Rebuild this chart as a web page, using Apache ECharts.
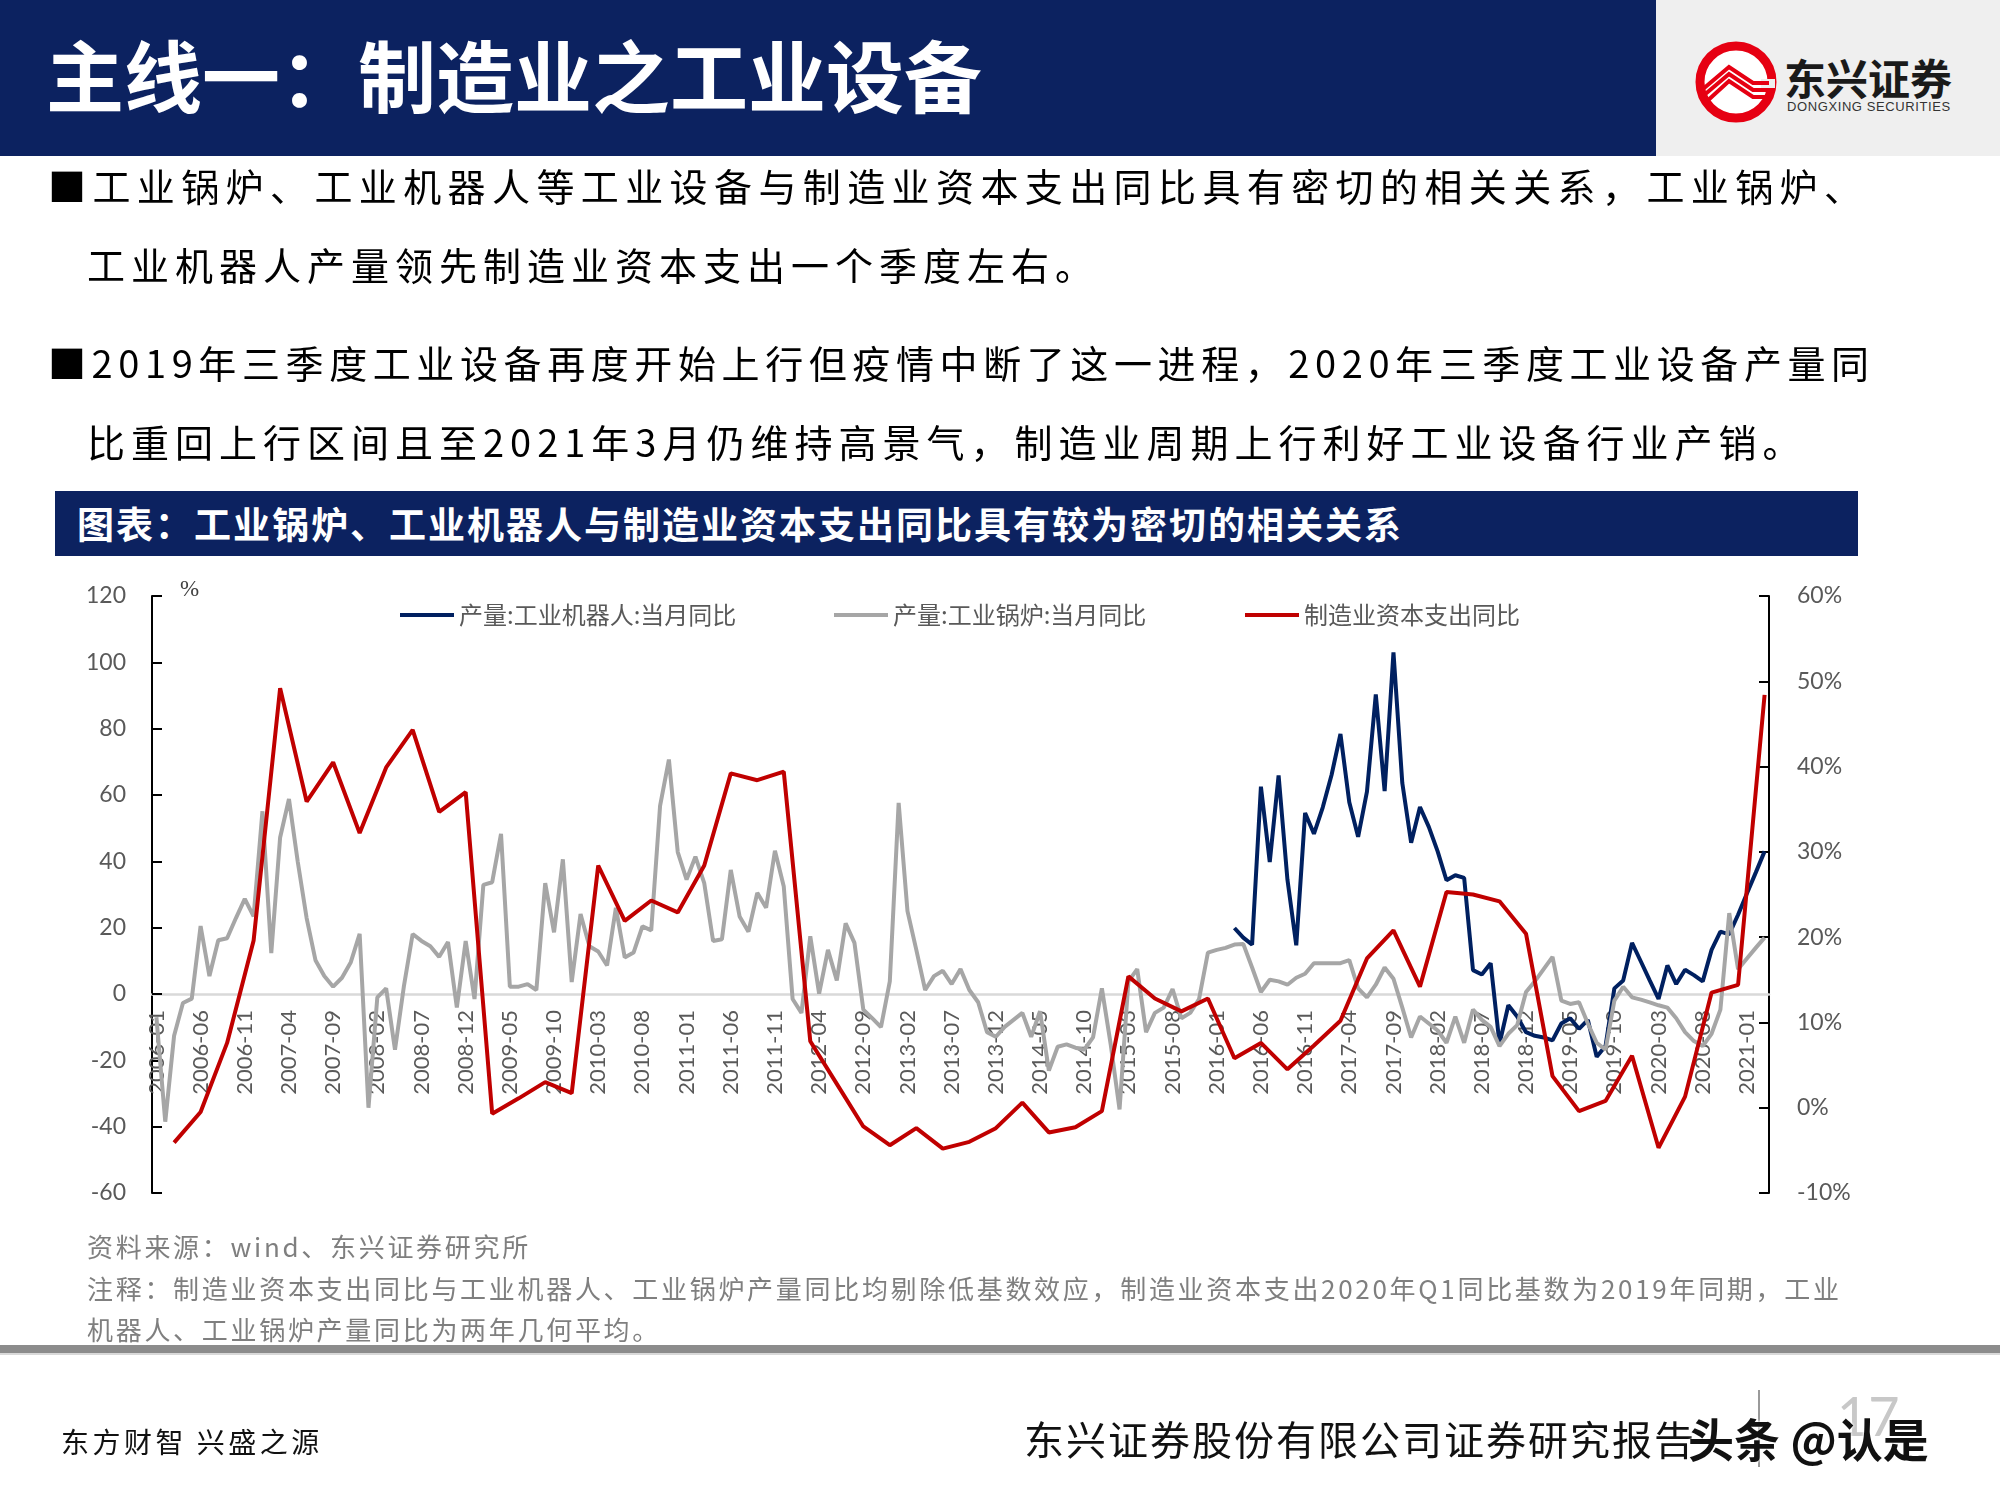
<!DOCTYPE html>
<html>
<head>
<meta charset="utf-8">
<title>主线一：制造业之工业设备</title>
<script src="https://cdn.jsdelivr.net/npm/echarts/dist/echarts.min.js"></script>
<style>
  body { margin: 0; background: #fff; }
  #page { position: relative; width: 2000px; height: 1500px; overflow: hidden; font-family: "Noto Sans CJK SC", sans-serif; }
  #chart { position: absolute; left: 0; top: 0; width: 2000px; height: 1500px; }
  .abs { position: absolute; white-space: nowrap; }
  .bullet { font-size: 38px; line-height: 46px; letter-spacing: 6px; color: #000; }
  .note { font-size: 26px; line-height: 32px; letter-spacing: 2.7px; color: #7f7f7f; }
</style>
</head>
<body>
<div id="page">
  <div id="chart"></div>

  <!-- header -->
  <div class="abs" style="left:0;top:0;width:1656px;height:156px;background:#0c2260;"></div>
  <div class="abs" style="left:1656px;top:0;width:344px;height:156px;background:#efefef;"></div>
  <div class="abs" style="left:46px;top:26px;font-size:78px;line-height:94px;font-weight:bold;color:#fff;">主线一：制造业之工业设备</div>
  <svg class="abs" style="left:1691px;top:37px;" width="90" height="90" viewBox="0 0 90 90">
    <circle cx="45" cy="45" r="36" fill="#fff" stroke="#e60012" stroke-width="9"/>
    <rect x="70" y="42" width="14" height="9" fill="#efefef"/>
    <polyline points="12,52 38,30 62,46 78,46" fill="none" stroke="#e60012" stroke-width="4"/>
    <polyline points="12,59 38,37 62,53 78,53" fill="none" stroke="#e60012" stroke-width="4"/>
    <polyline points="14,66 38,44 62,60 74,60" fill="none" stroke="#e60012" stroke-width="4"/>
  </svg>
  <div class="abs" style="left:1784px;top:52px;font-size:42px;line-height:50px;font-weight:bold;color:#1a1a1a;">东兴证券</div>
  <div class="abs" style="left:1787px;top:99px;font-size:13px;line-height:16px;letter-spacing:0.6px;color:#333;font-family:'Liberation Sans';">DONGXING SECURITIES</div>

  <!-- bullets -->
  <div class="abs bullet" style="left:48px;top:162px;letter-spacing:6.4px;">■工业锅炉、工业机器人等工业设备与制造业资本支出同比具有密切的相关关系，工业锅炉、</div>
  <div class="abs bullet" style="left:87px;top:241px;">工业机器人产量领先制造业资本支出一个季度左右。</div>
  <div class="abs bullet" style="left:48px;top:339px;letter-spacing:5.6px;">■2019年三季度工业设备再度开始上行但疫情中断了这一进程，2020年三季度工业设备产量同</div>
  <div class="abs bullet" style="left:87px;top:418px;">比重回上行区间且至2021年3月仍维持高景气，制造业周期上行利好工业设备行业产销。</div>

  <!-- chart caption band -->
  <div class="abs" style="left:55px;top:491px;width:1803px;height:65px;background:#0c2260;"></div>
  <div class="abs" style="left:77px;top:491px;font-size:37px;line-height:65px;font-weight:bold;color:#fff;letter-spacing:2px;">图表：工业锅炉、工业机器人与制造业资本支出同比具有较为密切的相关关系</div>

  <!-- notes -->
  <div class="abs note" style="left:87px;top:1230px;">资料来源：wind、东兴证券研究所</div>
  <div class="abs note" style="left:87px;top:1272px;">注释：制造业资本支出同比与工业机器人、工业锅炉产量同比均剔除低基数效应，制造业资本支出2020年Q1同比基数为2019年同期，工业</div>
  <div class="abs note" style="left:87px;top:1313px;">机器人、工业锅炉产量同比为两年几何平均。</div>

  <!-- footer -->
  <div class="abs" style="left:0;top:1345px;width:2000px;height:8px;background:#8c8c8c;"></div>
  <div class="abs" style="left:0;top:1353px;width:2000px;height:2px;background:#d9d9d9;"></div>
  <div class="abs" style="left:61px;top:1424px;font-size:28px;line-height:34px;letter-spacing:3.5px;color:#111;">东方财智 兴盛之源</div>
  <div class="abs" style="left:1837px;top:1385px;font-size:54px;line-height:62px;color:#c8c8c8;font-family:'Lato';">17</div>
  <div class="abs" style="left:1758px;top:1390px;width:2px;height:77px;background:#9a9a9a;"></div>
  <div class="abs" style="left:1024px;top:1413px;font-size:40px;line-height:50px;letter-spacing:2px;color:#111;">东兴证券股份有限公司证券研究报告</div>
  <div class="abs" style="left:1688px;top:1408px;font-size:46px;line-height:58px;font-weight:bold;color:#111;text-shadow:0 0 3px #fff, 0 0 3px #fff;">头条 @认是</div>
</div>

<script>
// monthly categories 2006-01 .. 2021-03
var months = [];
for (var y = 2006; y <= 2021; y++) {
    for (var m = 1; m <= 12; m++) {
        if (y === 2021 && m > 3) break;
        months.push(y + '-' + (m < 10 ? '0' + m : m));
    }
}

// 产量:工业锅炉:当月同比 (%), monthly from 2006-01
var boilerYoY = [
    -7, -38.5, -12.6, -2.7, -1.4, 20.5, 5.4, 16.2, 16.8, 22.9, 28.7, 23.4,
    55.1, 12.3, 47.2, 58.8, 39.8, 22.9, 10.2, 5.4, 2.2, 4.9, 9.6, 18.1,
    -34.3, -1.0, 1.7, -16.8, 2.2, 18.1, 16, 14.4, 11.2, 15.7, -4.1, 16.0,
    -1.5, 32.9, 33.7, 48.3, 2.2, 2.2, 3.0, 1.2, 33.4, 18.6, 40.6, 3.6,
    24.1, 14.4, 12.8, 8.6, 26.0, 11.0, 12.5, 20.4, 19.2, 56.7, 70.7, 42.8,
    34.5, 41.4, 33.4, 16.0, 16.5, 37.4, 23.4, 18.8, 30.5, 26.0, 43.2, 32.4,
    -1.5, -5.7, 17.4, 0.1, 13.3, 4.1, 21.3, 15.4, -4.7, -7.3, -10.0, 3.8,
    57.6, 25.0, 13.3, 1.2, 5.4, 7.0, 3.0, 7.5, 1.2, -2.5, -11.5, -12.9,
    -9.9, -7.8, -5.7, -12.9, -5.2, -23.1, -15.9, -15.2, -16.2, -16.8, -13.1, 1.7,
    -15.2, -34.8, 3.8, 7.5, -11.5, -5.7, -4.1, 1.5, -7.3, -5.7, -1.5, 12.5,
    13.3, 13.9, 14.9, 15.1, 8.0, 0.6, 4.3, 3.8, 2.8, 4.9, 6.1, 9.3,
    9.3, 9.3, 9.3, 10.2, 1.7, -1.0, 2.8, 8.0, 4.6, -4.1, -13.1, -6.8,
    -8.9, -11.0, -14.7, -6.8, -14.7, -4.7, -7.8, -9.9, -15.7, -12.0, -9.4, 0.6,
    3.8, 7.5, 11.2, -2.0, -3.0, -2.5, -8.9, -14.7, -16.8, -2.0, 2.2, -1.0,
    -1.7, -2.5, -3.4, -4.1, -7.3, -11.5, -14.2, -15.7, -12.0, -4.7, 24.4, 7.5,
    10.7, 13.9, 17.0
];

// 产量:工业机器人:当月同比 (%), monthly from 2016-03
var robotStart = '2016-03';
var robotYoY = [
    19.9, 17.0, 14.9, 62.5, 39.8, 65.9, 34.5, 14.7, 54.6, 48.3,
    56.3, 66.1, 78.4, 57.8, 47.4, 61.0, 90.3, 61.2, 103, 63.6,
    45.6, 56.4, 50.4, 43.0, 34.3, 35.8, 35.0, 7.2, 5.9, 9.3,
    -15.0, -3.4, -6.8, -11.5, -12.6, -13.1, -14.0, -8.9, -7.3, -10.5,
    -7.8, -18.9, -15.7, 1.7, 4.1, 15.4, 9.8, 4.1, -1.5, 8.6,
    3.0, 7.3, 5.7, 3.8, 13.3, 18.8, 18.0, 23.9, 30.3, 36.6,
    43.0
];

// 制造业资本支出同比 (%), quarter ends from 2006-03
var capexStart = '2006-03';
var capexYoY = [
    -4.1, -0.5, 7.6, 19.6, 49.2, 35.9, 40.5, 32.2, 39.9, 44.3,
    34.7, 37.0, -0.7, 1.1, 3.0, 1.7, 28.4, 21.9, 24.3, 22.9,
    28.4, 39.2, 38.4, 39.4, 7.8, 2.8, -2.2, -4.4, -2.4, -4.8,
    -4.0, -2.4, 0.6, -2.9, -2.3, -0.4, 15.4, 12.8, 11.3, 12.8,
    5.8, 7.6, 4.5, 7.3, 10.2, 17.5, 20.8, 14.2, 25.3, 25.0,
    24.2, 20.4, 3.7, -0.4, 0.8, 6.1, -4.7, 1.3, 13.5, 14.4,
    48.4
];

var leftTicks = { min: -60, max: 120, interval: 20 };
var rightTicks = { min: -10, max: 60, interval: 10 };

var robotIdx = months.indexOf(robotStart);
var robotData = months.map(function (m, i) {
    return i >= robotIdx ? robotYoY[i - robotIdx] : null;
});
var capexIdx = months.indexOf(capexStart);
var capexData = months.map(function (m, i) {
    var k = i - capexIdx;
    return (k >= 0 && k % 3 === 0) ? capexYoY[k / 3] : null;
});

var names = ['产量:工业机器人:当月同比', '产量:工业锅炉:当月同比', '制造业资本支出同比'];
var colors = ['#002060', '#a6a6a6', '#c00000'];
var legendLeft = [395, 829, 1240];

// plot box in page pixels; the category axis sits on the left axis' zero
var plotTop = 596, plotBottom = 307, plotHeight = 1500 - plotTop - plotBottom;
var zeroBottom = plotBottom + plotHeight * (0 - leftTicks.min) / (leftTicks.max - leftTicks.min);

var chart = echarts.init(document.getElementById('chart'));

var axisLabelStyle = { color: '#595959', fontSize: 23, fontFamily: 'Lato' };

option = {
    animation: false,
    grid: [
        { left: 152, right: 231, top: plotTop, bottom: plotBottom },
        { left: 152, right: 231, top: plotTop, bottom: zeroBottom }
    ],
    legend: names.map(function (n, i) {
        return {
            data: [n],
            left: legendLeft[i],
            top: 598,
            icon: 'rect',
            itemWidth: 54,
            itemHeight: 4,
            textStyle: { color: '#595959', fontSize: 24, fontFamily: 'Noto Sans CJK SC' }
        };
    }),
    graphic: [{
        type: 'text',
        left: 180,
        top: 578,
        style: { text: '%', fontSize: 23, fill: '#404040', fontFamily: 'Liberation Serif' }
    }],
    xAxis: [
        {
            type: 'category',
            gridIndex: 0,
            data: months,
            boundaryGap: true,
            show: false
        },
        {
            type: 'category',
            gridIndex: 1,
            data: months,
            boundaryGap: true,
            axisLine: { onZero: false, lineStyle: { color: '#d9d9d9', width: 2.5 } },
            axisTick: {
                interval: 4,
                length: 8,
                lineStyle: { color: '#d9d9d9', width: 2 }
            },
            axisLabel: {
                interval: 4,
                rotate: 90,
                margin: 16,
                color: '#595959',
                fontSize: 22,
                fontFamily: 'Lato'
            },
            splitLine: { show: false }
        }
    ],
    yAxis: [
        {
            type: 'value',
            gridIndex: 0,
            position: 'left',
            min: leftTicks.min,
            max: leftTicks.max,
            interval: leftTicks.interval,
            axisLine: { show: true, lineStyle: { color: '#000', width: 2 } },
            axisTick: { show: true, inside: true, length: 10, lineStyle: { color: '#000', width: 2 } },
            axisLabel: Object.assign({ margin: 26 }, axisLabelStyle),
            splitLine: { show: false }
        },
        {
            type: 'value',
            gridIndex: 0,
            position: 'right',
            min: rightTicks.min,
            max: rightTicks.max,
            interval: rightTicks.interval,
            axisLine: { show: true, lineStyle: { color: '#000', width: 2 } },
            axisTick: { show: true, inside: true, length: 10, lineStyle: { color: '#000', width: 2 } },
            axisLabel: Object.assign({ margin: 28, formatter: '{value}%' }, axisLabelStyle),
            splitLine: { show: false }
        },
        {
            type: 'value',
            gridIndex: 1,
            show: false
        }
    ],
    series: [
        {
            name: names[0],
            type: 'line',
            xAxisIndex: 0,
            yAxisIndex: 0,
            symbol: 'none',
            lineStyle: { color: colors[0], width: 4 },
            itemStyle: { color: colors[0] },
            data: robotData
        },
        {
            name: names[1],
            type: 'line',
            xAxisIndex: 0,
            yAxisIndex: 0,
            symbol: 'none',
            lineStyle: { color: colors[1], width: 4 },
            itemStyle: { color: colors[1] },
            data: boilerYoY
        },
        {
            name: names[2],
            type: 'line',
            xAxisIndex: 0,
            yAxisIndex: 1,
            symbol: 'none',
            connectNulls: true,
            lineStyle: { color: colors[2], width: 4 },
            itemStyle: { color: colors[2] },
            data: capexData
        }
    ]
};

chart.setOption(option);
</script>
</body>
</html>
